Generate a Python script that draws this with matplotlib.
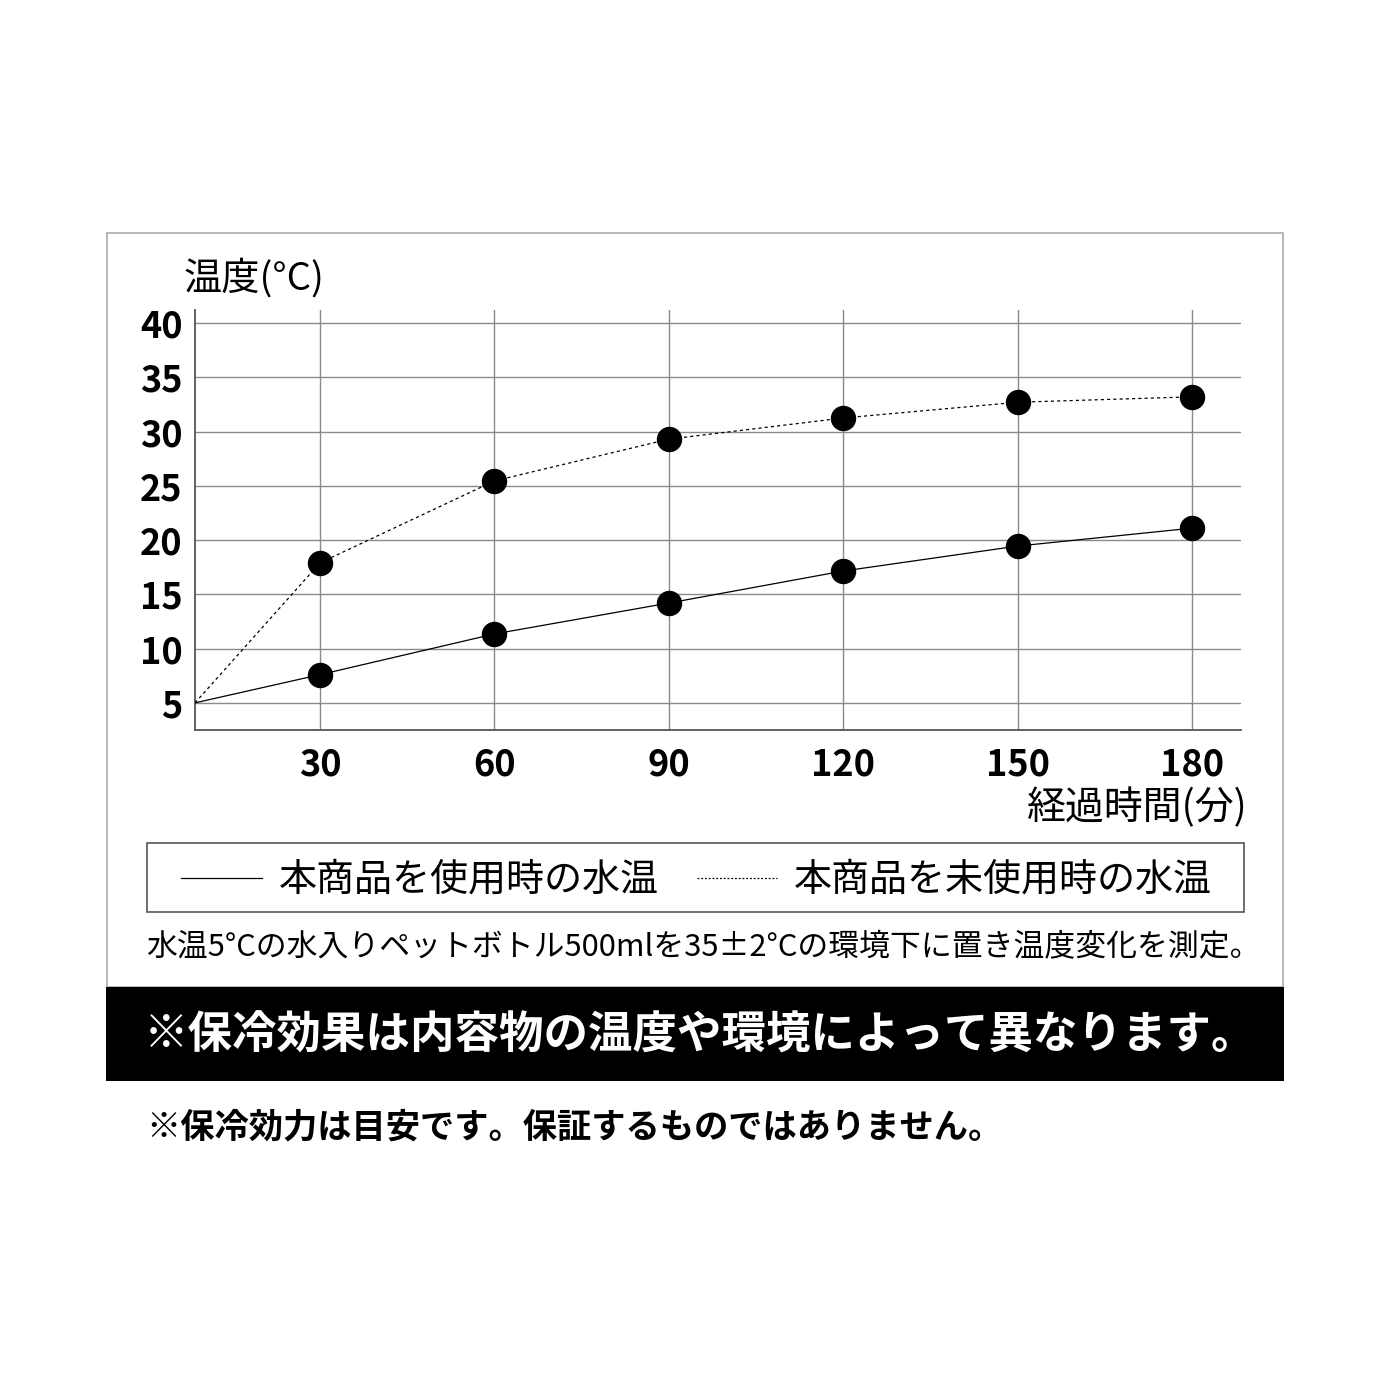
import matplotlib
matplotlib.use('Agg')
import matplotlib.pyplot as plt
from matplotlib.patches import Rectangle
from matplotlib.lines import Line2D

plt.rcParams['font.family'] = ['Noto Sans CJK JP', 'DejaVu Sans']

# data
times       = [8.5, 30, 60, 90, 120, 150, 180]
temp_used   = [5.0, 7.6, 11.35, 14.2, 17.15, 19.45, 21.1]
temp_unused = [5.0, 17.9, 25.45, 29.3, 31.25, 32.7, 33.2]
x_ticks     = [30, 60, 90, 120, 150, 180]
y_ticks     = [5, 10, 15, 20, 25, 30, 35, 40]

label_used   = '本商品を使用時の水温'
label_unused = '本商品を未使用時の水温'
y_title      = '温度(°C)'
x_title      = '経過時間(分)'
note_text    = '水温5°Cの水入りペットボトル500mlを35±2°Cの環境下に置き温度変化を測定。'
band_text    = '※保冷効果は内容物の温度や環境によって異なります。'
foot_text    = '※保冷効力は目安です。保証するものではありません。'

W = H = 1390.0
def fx(px): return px / W
def fy(py): return 1 - py / H

fig = plt.figure(figsize=(13.9, 13.9), dpi=100)

# outer frame and black band
fig.patches.append(Rectangle((fx(107), fy(987)), fx(1283) - fx(107), fy(233) - fy(987),
                             transform=fig.transFigure, fill=False, edgecolor='#b8b8b8', linewidth=1.4))
fig.patches.append(Rectangle((fx(106), fy(1081)), fx(1284) - fx(106), fy(987) - fy(1081),
                             transform=fig.transFigure, facecolor='black', edgecolor='none'))

# main axes
ax = fig.add_axes([fx(195), fy(730), fx(1241) - fx(195), fy(310) - fy(730)])
ax.set_xlim(8.5, 188.4)
ax.set_ylim(2.5, 41.2)
ax.set_xticks(x_ticks)
ax.set_yticks(y_ticks)
ax.grid(True, color='#8a8a8a', linewidth=1.0)
ax.set_axisbelow(True)
for s in ['top', 'right']:
    ax.spines[s].set_visible(False)
for s in ['left', 'bottom']:
    ax.spines[s].set_color('#555555')
    ax.spines[s].set_linewidth(1.3)
ax.tick_params(length=0, labelsize=26)
for lab in ax.get_xticklabels() + ax.get_yticklabels():
    lab.set_fontweight('bold')
ax.tick_params(axis='x', pad=12)
ax.tick_params(axis='y', pad=9)

ax.plot(times, temp_used, color='black', linewidth=0.9, zorder=3)
ax.plot(times, temp_unused, color='black', linewidth=0.9, linestyle=(0, (2.5, 2.5)), zorder=3)
ax.plot(times[1:], temp_used[1:], 'o', color='black', markersize=17.3, zorder=4)
ax.plot(times[1:], temp_unused[1:], 'o', color='black', markersize=17.3, zorder=4)

# axis titles
fig.text(fx(184), fy(279), y_title, fontsize=27.5, ha='left', va='center')
fig.text(fx(1248), fy(808), x_title, fontsize=28, ha='right', va='center')

# legend box
fig.patches.append(Rectangle((fx(147), fy(912)), fx(1244) - fx(147), fy(843) - fy(912),
                             transform=fig.transFigure, fill=False, edgecolor='#555555', linewidth=1.2))
fig.lines.append(Line2D([fx(181), fx(262)], [fy(878), fy(878)], transform=fig.transFigure,
                        color='black', linewidth=0.9))
fig.text(fx(279), fy(880), label_used, fontsize=27.4, ha='left', va='center')
fig.lines.append(Line2D([fx(697), fx(777)], [fy(878), fy(878)], transform=fig.transFigure,
                        color='black', linewidth=0.9, linestyle=(0, (1.5, 1.5))))
fig.text(fx(794), fy(880), label_unused, fontsize=27.4, ha='left', va='center')

# notes
fig.text(fx(146), fy(948), note_text, fontsize=22.2, ha='left', va='center')
fig.text(fx(144), fy(1036), band_text, fontsize=32, ha='left', va='center',
         color='white', fontweight='bold')
fig.text(fx(146), fy(1127), foot_text, fontsize=24.7, ha='left', va='center', fontweight='bold')

fig.savefig('out.png', dpi=100, facecolor='white')
